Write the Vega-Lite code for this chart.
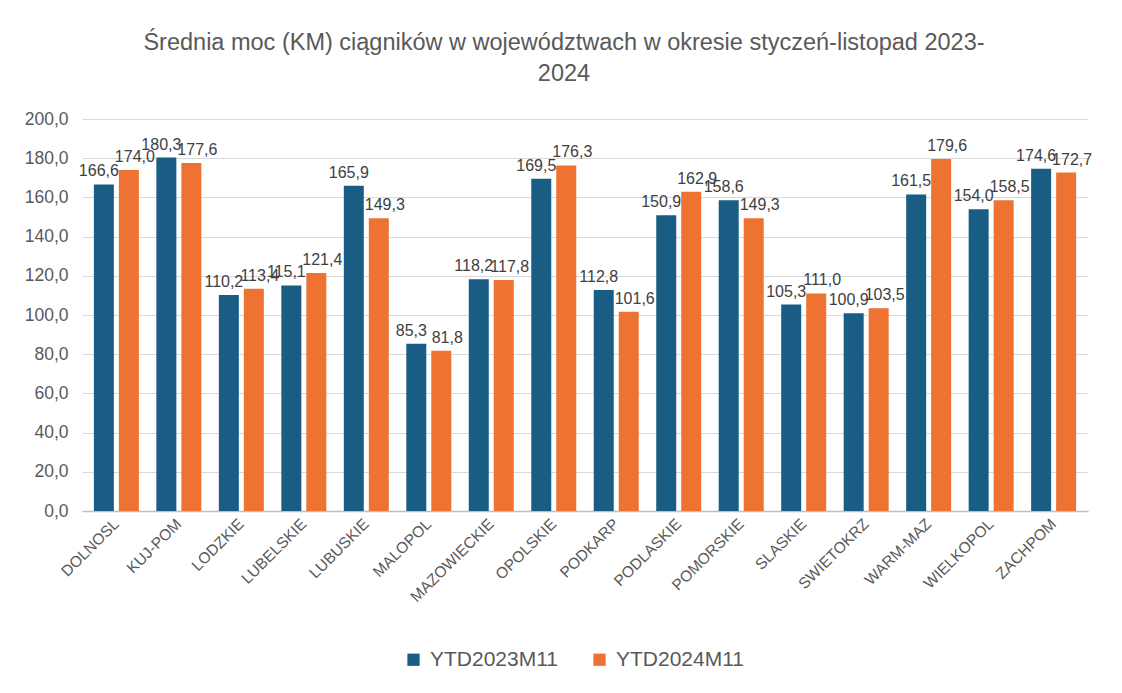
{
  "$schema": "https://vega.github.io/schema/vega-lite/v6.json",
  "width": 1006,
  "height": 392,
  "autosize": {"type": "none"},
  "padding": {"left": 82, "top": 119, "right": 34, "bottom": 182},
  "background": "white",
  "title": {
    "text": ["Średnia moc (KM) ciągników w województwach w okresie styczeń-listopad 2023-", "2024"],
    "anchor": "middle",
    "dx": -21,
    "offset": 25,
    "font": "Liberation Sans, Arial, sans-serif",
    "fontSize": 23.5,
    "fontWeight": "normal",
    "color": "#595959",
    "lineHeight": 31
  },
  "data": {
    "values": [
      {"region": "DOLNOSL", "series": "YTD2023M11", "value": 166.6},
      {"region": "DOLNOSL", "series": "YTD2024M11", "value": 174.0},
      {"region": "KUJ-POM", "series": "YTD2023M11", "value": 180.3},
      {"region": "KUJ-POM", "series": "YTD2024M11", "value": 177.6},
      {"region": "LODZKIE", "series": "YTD2023M11", "value": 110.2},
      {"region": "LODZKIE", "series": "YTD2024M11", "value": 113.4},
      {"region": "LUBELSKIE", "series": "YTD2023M11", "value": 115.1},
      {"region": "LUBELSKIE", "series": "YTD2024M11", "value": 121.4},
      {"region": "LUBUSKIE", "series": "YTD2023M11", "value": 165.9},
      {"region": "LUBUSKIE", "series": "YTD2024M11", "value": 149.3},
      {"region": "MALOPOL", "series": "YTD2023M11", "value": 85.3},
      {"region": "MALOPOL", "series": "YTD2024M11", "value": 81.8},
      {"region": "MAZOWIECKIE", "series": "YTD2023M11", "value": 118.2},
      {"region": "MAZOWIECKIE", "series": "YTD2024M11", "value": 117.8},
      {"region": "OPOLSKIE", "series": "YTD2023M11", "value": 169.5},
      {"region": "OPOLSKIE", "series": "YTD2024M11", "value": 176.3},
      {"region": "PODKARP", "series": "YTD2023M11", "value": 112.8},
      {"region": "PODKARP", "series": "YTD2024M11", "value": 101.6},
      {"region": "PODLASKIE", "series": "YTD2023M11", "value": 150.9},
      {"region": "PODLASKIE", "series": "YTD2024M11", "value": 162.9},
      {"region": "POMORSKIE", "series": "YTD2023M11", "value": 158.6},
      {"region": "POMORSKIE", "series": "YTD2024M11", "value": 149.3},
      {"region": "SLASKIE", "series": "YTD2023M11", "value": 105.3},
      {"region": "SLASKIE", "series": "YTD2024M11", "value": 111.0},
      {"region": "SWIETOKRZ", "series": "YTD2023M11", "value": 100.9},
      {"region": "SWIETOKRZ", "series": "YTD2024M11", "value": 103.5},
      {"region": "WARM-MAZ", "series": "YTD2023M11", "value": 161.5},
      {"region": "WARM-MAZ", "series": "YTD2024M11", "value": 179.6},
      {"region": "WIELKOPOL", "series": "YTD2023M11", "value": 154.0},
      {"region": "WIELKOPOL", "series": "YTD2024M11", "value": 158.5},
      {"region": "ZACHPOM", "series": "YTD2023M11", "value": 174.6},
      {"region": "ZACHPOM", "series": "YTD2024M11", "value": 172.7}
    ]
  },
  "encoding": {
    "x": {
      "field": "region",
      "type": "nominal",
      "sort": null,
      "scale": {"paddingInner": 0.28, "paddingOuter": 0.19},
      "axis": {
        "title": null,
        "labelAngle": -45,
        "labelAlign": "right",
        "labelBaseline": "middle",
        "labelPadding": 10,
        "labelFont": "Liberation Sans, Arial, sans-serif",
        "labelFontSize": 15.5,
        "labelColor": "#595959",
        "ticks": false,
        "domainColor": "#bfbfbf",
        "domainWidth": 1.5
      }
    },
    "xOffset": {"field": "series", "type": "nominal", "scale": {"paddingInner": 0.2}},
    "y": {
      "field": "value",
      "type": "quantitative",
      "scale": {"domain": [0, 200], "nice": false},
      "axis": {
        "title": null,
        "values": [0, 20, 40, 60, 80, 100, 120, 140, 160, 180, 200],
        "labelExpr": "replace(format(datum.value, '.1f'), '.', ',')",
        "labelFont": "Liberation Sans, Arial, sans-serif",
        "labelFontSize": 17.5,
        "labelColor": "#595959",
        "labelPadding": 14,
        "ticks": false,
        "domain": false,
        "gridColor": "#d9d9d9",
        "gridWidth": 1
      }
    },
    "color": {
      "field": "series",
      "type": "nominal",
      "scale": {"domain": ["YTD2023M11", "YTD2024M11"], "range": ["#1a5d84", "#ee7231"]},
      "legend": {
        "title": null,
        "orient": "none",
        "direction": "horizontal",
        "legendX": 321,
        "legendY": 530,
        "symbolType": "square",
        "symbolSize": 150,
        "symbolStrokeWidth": 0,
        "labelFont": "Liberation Sans, Arial, sans-serif",
        "labelFontSize": 21,
        "labelColor": "#595959",
        "columnPadding": 30,
        "labelOffset": 6
      }
    }
  },
  "layer": [
    {"mark": {"type": "bar"}},
    {
      "transform": [{"filter": "datum.series == 'YTD2023M11'"}],
      "mark": {
        "type": "text",
        "baseline": "bottom",
        "dy": -5,
        "dx": -5,
        "font": "Liberation Sans, Arial, sans-serif",
        "fontSize": 16,
        "color": "#404040"
      },
      "encoding": {
        "text": {"field": "value", "type": "quantitative", "format": ".1f"},
        "color": {"value": "#404040"}
      }
    },
    {
      "transform": [{"filter": "datum.series == 'YTD2024M11'"}],
      "mark": {
        "type": "text",
        "baseline": "bottom",
        "dy": -5,
        "dx": 6,
        "font": "Liberation Sans, Arial, sans-serif",
        "fontSize": 16,
        "color": "#404040"
      },
      "encoding": {
        "text": {"field": "value", "type": "quantitative", "format": ".1f"},
        "color": {"value": "#404040"}
      }
    }
  ],
  "config": {
    "view": {"stroke": null},
    "locale": {"number": {"decimal": ",", "thousands": " ", "grouping": [3], "currency": ["", " zł"]}}
  }
}
